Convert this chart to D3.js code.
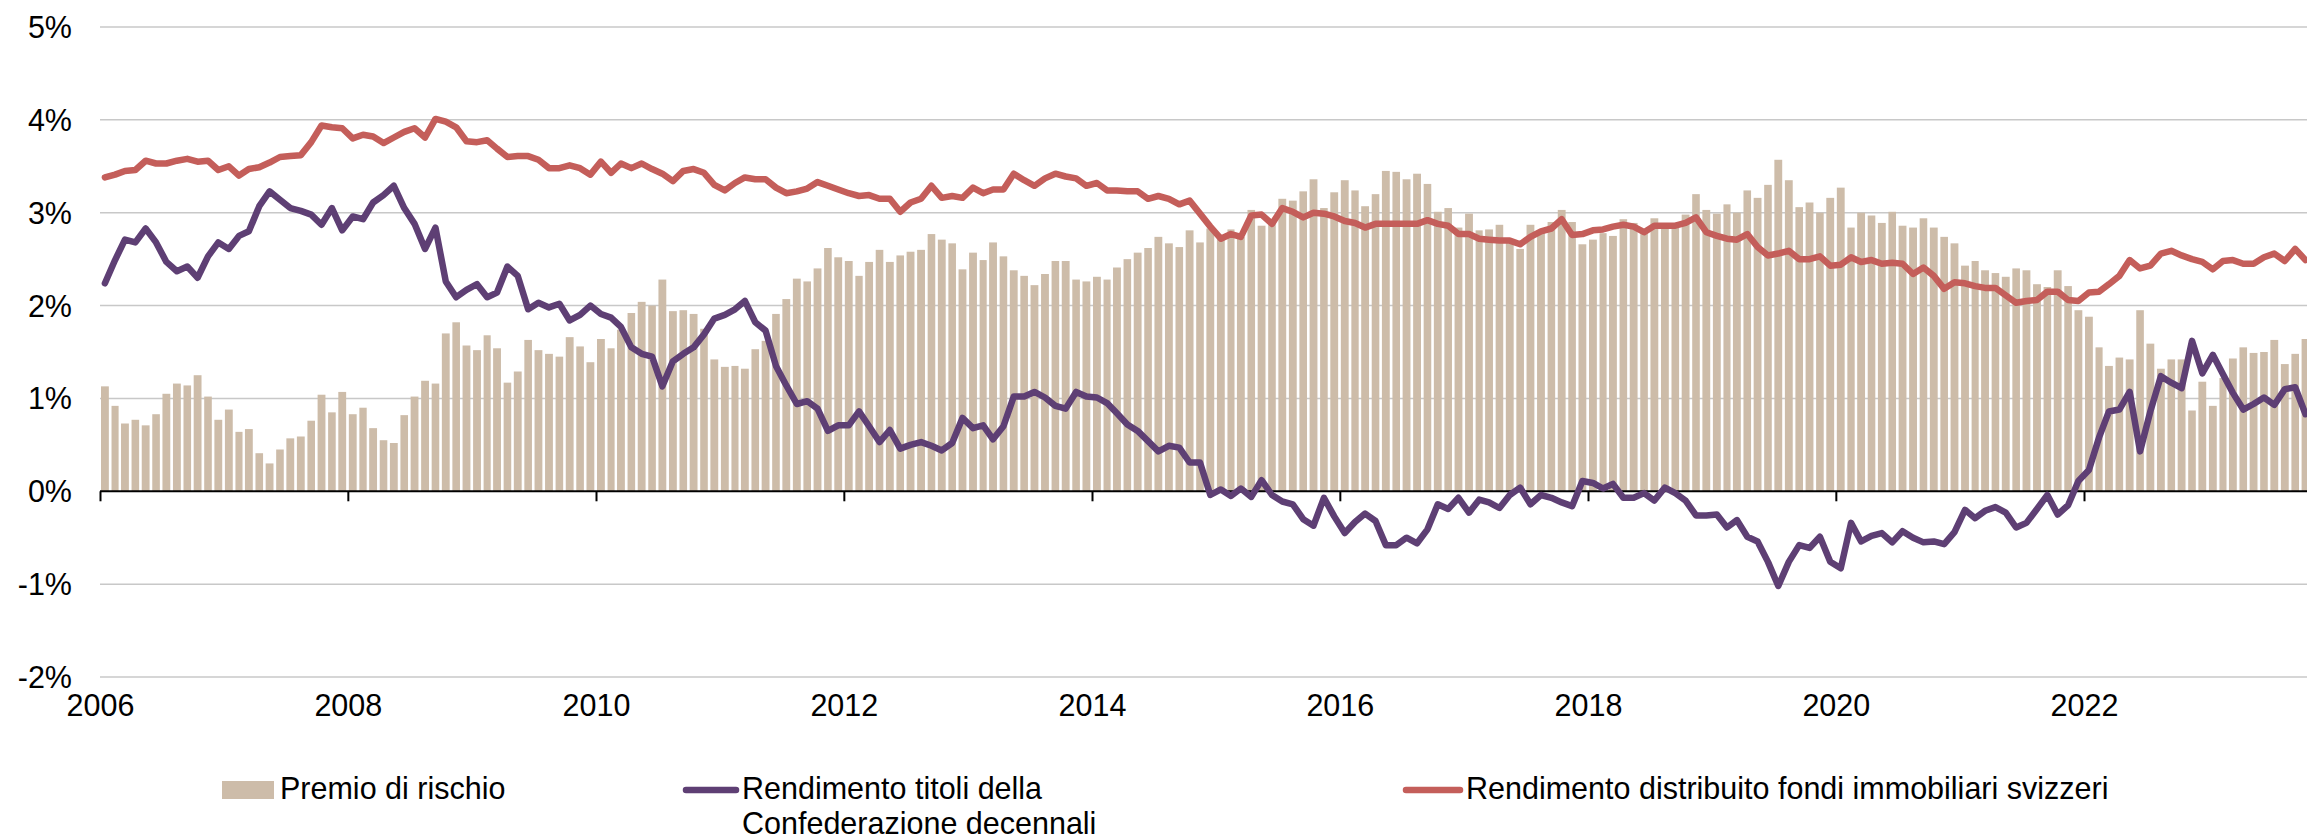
<!DOCTYPE html>
<html>
<head>
<meta charset="utf-8">
<script src="https://cdn.jsdelivr.net/npm/d3@7"></script>
<style>
  html, body { margin: 0; padding: 0; background: #fff; }
  svg { display: block; }
  text { font-family: "Liberation Sans", Arial, "Open Sans", sans-serif; fill: #000; }
</style>
</head>
<body>
<svg id="chart" width="2307" height="840"></svg>
<script>
// ---------------- DATA ----------------
const startMonth = "2006-01";
const yTickValues = [-2, -1, 0, 1, 2, 3, 4, 5];
const xTickYears = [2006, 2008, 2010, 2012, 2014, 2016, 2018, 2020, 2022];

const legendLabels = ["Premio di rischio", ["Rendimento titoli della", "Confederazione decennali"], "Rendimento distribuito fondi immobiliari svizzeri"];

// Premio di rischio (bars), monthly from Jan 2006
const premio = [
  1.13, 0.92, 0.73, 0.77, 0.71, 0.83, 1.05, 1.16, 1.14, 1.25, 1.02, 0.77,
  0.88, 0.64, 0.67, 0.41, 0.30, 0.45, 0.57, 0.59, 0.76, 1.04, 0.85, 1.07,
  0.83, 0.90, 0.68, 0.55, 0.52, 0.82, 1.02, 1.19, 1.16, 1.70, 1.82, 1.57,
  1.52, 1.68, 1.54, 1.17, 1.29, 1.63, 1.52, 1.48, 1.45, 1.66, 1.56, 1.39,
  1.64, 1.54, 1.74, 1.92, 2.04, 2.00, 2.28, 1.94, 1.95, 1.91, 1.75, 1.42,
  1.34, 1.35, 1.32, 1.53, 1.62, 1.91, 2.07, 2.29, 2.26, 2.40, 2.62, 2.52,
  2.48, 2.32, 2.47, 2.60, 2.47, 2.54, 2.58, 2.60, 2.77, 2.71, 2.67, 2.39,
  2.57, 2.49, 2.68, 2.53, 2.38, 2.32, 2.22, 2.34, 2.48, 2.48, 2.28, 2.26,
  2.31, 2.28, 2.41, 2.50, 2.57, 2.62, 2.74, 2.67, 2.63, 2.81, 2.68, 2.83,
  2.75, 2.82, 2.74, 3.03, 2.86, 2.92, 3.15, 3.13, 3.23, 3.36, 3.05, 3.22,
  3.35, 3.24, 3.07, 3.20, 3.45, 3.44, 3.36, 3.42, 3.31, 3.01, 3.05, 2.84,
  2.99, 2.81, 2.82, 2.87, 2.70, 2.61, 2.87, 2.79, 2.90, 3.03, 2.90, 2.66,
  2.71, 2.78, 2.75, 2.93, 2.89, 2.81, 2.94, 2.83, 2.88, 2.98, 3.20, 3.03,
  2.99, 3.09, 3.00, 3.24, 3.16, 3.30, 3.57, 3.35, 3.06, 3.11, 3.00, 3.16,
  3.27, 2.84, 3.00, 2.97, 2.89, 3.01, 2.86, 2.84, 2.94, 2.84, 2.74, 2.67,
  2.43, 2.48, 2.38, 2.35, 2.31, 2.40, 2.38, 2.23, 2.20, 2.38, 2.21, 1.95,
  1.88, 1.55, 1.35, 1.44, 1.42, 1.95, 1.59, 1.32, 1.42, 1.42, 0.87, 1.18,
  0.92, 1.22, 1.43, 1.55, 1.49, 1.50, 1.63, 1.37, 1.48, 1.64
];

// Rendimento titoli della Confederazione decennali (purple line)
const confederazione = [
  2.24, 2.49, 2.71, 2.68, 2.83, 2.68, 2.47, 2.37, 2.42, 2.30, 2.53, 2.68,
  2.61, 2.75, 2.80, 3.07, 3.23, 3.14, 3.05, 3.02, 2.98, 2.87, 3.05, 2.81,
  2.96, 2.93, 3.11, 3.19, 3.29, 3.05, 2.88, 2.61, 2.84, 2.26, 2.09, 2.17,
  2.23, 2.09, 2.14, 2.42, 2.32, 1.96, 2.03, 1.98, 2.02, 1.84, 1.90, 2.00,
  1.91, 1.87, 1.77, 1.55, 1.48, 1.45, 1.13, 1.40, 1.48, 1.55, 1.69, 1.86,
  1.90, 1.96, 2.05, 1.82, 1.73, 1.35, 1.14, 0.94, 0.97, 0.89, 0.65, 0.71,
  0.71, 0.86, 0.70, 0.53, 0.66, 0.46, 0.50, 0.53, 0.49, 0.44, 0.52, 0.79,
  0.68, 0.71, 0.56, 0.70, 1.02, 1.02, 1.07, 1.01, 0.92, 0.89, 1.07, 1.02,
  1.01, 0.95, 0.84, 0.72, 0.65, 0.54, 0.43, 0.49, 0.47, 0.31, 0.31, -0.04,
  0.02, -0.05, 0.03, -0.06, 0.12, -0.04, -0.11, -0.14, -0.30, -0.37, -0.07, -0.27,
  -0.45, -0.33, -0.24, -0.32, -0.58, -0.58, -0.50, -0.56, -0.41, -0.14, -0.19, -0.07,
  -0.23, -0.09, -0.12, -0.18, -0.04, 0.04, -0.14, -0.04, -0.07, -0.12, -0.16, 0.11,
  0.09, 0.03, 0.08, -0.07, -0.07, -0.02, -0.10, 0.04, -0.02, -0.10, -0.26, -0.26,
  -0.25, -0.39, -0.31, -0.49, -0.54, -0.76, -1.02, -0.76, -0.58, -0.61, -0.49, -0.76,
  -0.83, -0.34, -0.54, -0.48, -0.45, -0.55, -0.43, -0.50, -0.55, -0.54, -0.57, -0.44,
  -0.20, -0.29, -0.21, -0.17, -0.23, -0.39, -0.34, -0.19, -0.04, -0.25, -0.15, 0.11,
  0.23, 0.58, 0.86, 0.88, 1.07, 0.43, 0.86, 1.24, 1.17, 1.11, 1.62, 1.27,
  1.47, 1.26, 1.06, 0.88, 0.94, 1.01, 0.93, 1.10, 1.12, 0.83
];

// Rendimento distribuito fondi immobiliari svizzeri (red line)
const fondiImmobiliari = [
  3.38, 3.41, 3.45, 3.46, 3.56, 3.53, 3.53, 3.56, 3.58, 3.55, 3.56, 3.46,
  3.50, 3.40, 3.47, 3.49, 3.54, 3.60, 3.61, 3.62, 3.76, 3.94, 3.92, 3.91,
  3.80, 3.84, 3.82, 3.75, 3.81, 3.87, 3.91, 3.81, 4.01, 3.98, 3.92, 3.77,
  3.76, 3.78, 3.69, 3.60, 3.61, 3.61, 3.57, 3.48, 3.48, 3.51, 3.48, 3.41,
  3.55, 3.43, 3.53, 3.48, 3.53, 3.47, 3.42, 3.34, 3.45, 3.47, 3.43, 3.30,
  3.24, 3.32, 3.38, 3.36, 3.36, 3.27, 3.21, 3.23, 3.26, 3.33, 3.29, 3.25,
  3.21, 3.18, 3.19, 3.15, 3.15, 3.01, 3.11, 3.15, 3.29, 3.16, 3.18, 3.16,
  3.27, 3.21, 3.25, 3.25, 3.42, 3.35, 3.29, 3.37, 3.42, 3.39, 3.37, 3.29,
  3.32, 3.24, 3.24, 3.23, 3.23, 3.15, 3.18, 3.15, 3.09, 3.13, 2.99, 2.85,
  2.72, 2.77, 2.74, 2.97, 2.98, 2.88, 3.05, 3.01, 2.95, 3.00, 2.99, 2.96,
  2.91, 2.89, 2.84, 2.88, 2.88, 2.88, 2.88, 2.88, 2.92, 2.88, 2.86, 2.77,
  2.77, 2.72, 2.71, 2.70, 2.70, 2.66, 2.74, 2.80, 2.83, 2.93, 2.76, 2.77,
  2.81, 2.82, 2.85, 2.87, 2.85, 2.79, 2.86, 2.86, 2.86, 2.89, 2.95, 2.79,
  2.75, 2.72, 2.71, 2.77, 2.63, 2.54, 2.56, 2.59, 2.50, 2.50, 2.53, 2.43,
  2.44, 2.52, 2.47, 2.49, 2.45, 2.46, 2.45, 2.34, 2.41, 2.32, 2.18, 2.25,
  2.24, 2.21, 2.19, 2.19, 2.11, 2.03, 2.05, 2.06, 2.15, 2.15, 2.06, 2.05,
  2.14, 2.15, 2.23, 2.32, 2.49, 2.40, 2.43, 2.56, 2.59, 2.54, 2.50, 2.47,
  2.39, 2.48, 2.49, 2.45, 2.45, 2.52, 2.56, 2.48, 2.61, 2.49
];

// ---------------- CHART ----------------
const W = 2307, H = 840;
const colors = { bar: "#cdbca9", purple: "#5e3f74", red: "#c45e5a", grid: "#c8c8c8" };
const FS = 30.5;

const parseMonth = d3.timeParse("%Y-%m");
const start = parseMonth(startMonth);
const months = d3.range(premio.length).map(i => d3.timeMonth.offset(start, i));

const x = d3.scaleTime()
  .domain([new Date(2006, 0, 1), new Date(2022, 0, 1)])
  .range([100, 2084]);
const y = d3.scaleLinear().domain([-2, 5]).range([677, 27]);

const svg = d3.select("#chart");
svg.append("rect").attr("width", W).attr("height", H).attr("fill", "#fff");

const plotLeft = 100, plotRight = W;

// gridlines
svg.append("g").selectAll("line")
  .data(yTickValues.filter(v => v !== 0))
  .join("line")
  .attr("x1", plotLeft).attr("x2", plotRight)
  .attr("y1", d => y(d)).attr("y2", d => y(d))
  .attr("stroke", colors.grid).attr("stroke-width", 1.5);

// y labels
svg.append("g").selectAll("text")
  .data(yTickValues)
  .join("text")
  .attr("x", 72).attr("y", d => y(d) + 11)
  .attr("text-anchor", "end")
  .attr("font-size", FS)
  .text(d => d + "%");

// bars
const bw = m => (x(d3.timeMonth.offset(m, 1)) - x(m));
svg.append("g").selectAll("rect")
  .data(premio.map((v, i) => ({ v, m: months[i] })))
  .join("rect")
  .attr("x", d => x(d.m) + 1)
  .attr("width", d => bw(d.m) * 0.745)
  .attr("y", d => Math.min(y(d.v), y(0)))
  .attr("height", d => Math.abs(y(0) - y(d.v)))
  .attr("fill", colors.bar);

// x axis
const xAxis = d3.axisBottom(x)
  .tickValues(xTickYears.map(yr => new Date(yr, 0, 1)))
  .tickFormat(d3.timeFormat("%Y"))
  .tickSize(10)
  .tickSizeOuter(0);
const gx = svg.append("g").attr("transform", `translate(0,${y(0)})`).call(xAxis);
gx.select(".domain").remove();
gx.selectAll(".tick line").attr("stroke", "#000").attr("stroke-width", 2);
gx.selectAll(".tick text")
  .attr("font-size", FS)
  .attr("font-family", '"Liberation Sans", Arial, sans-serif')
  .attr("fill", "#000")
  .attr("dy", null)
  .attr("y", 716 - y(0));
svg.append("line")
  .attr("x1", plotLeft).attr("x2", plotRight)
  .attr("y1", y(0)).attr("y2", y(0))
  .attr("stroke", "#000").attr("stroke-width", 2);

// lines
const cx = m => x(m) + 1 + bw(m) * 0.745 / 2;
const line = d3.line().x((d, i) => cx(months[i])).y(d => y(d));
svg.append("path").datum(fondiImmobiliari)
  .attr("d", line).attr("fill", "none")
  .attr("stroke", colors.red).attr("stroke-width", 6.5)
  .attr("stroke-linejoin", "round").attr("stroke-linecap", "round");
svg.append("path").datum(confederazione)
  .attr("d", line).attr("fill", "none")
  .attr("stroke", colors.purple).attr("stroke-width", 6.5)
  .attr("stroke-linejoin", "round").attr("stroke-linecap", "round");

// legend
const lg = svg.append("g");
lg.append("rect").attr("x", 222).attr("y", 781).attr("width", 52).attr("height", 18).attr("fill", colors.bar);
lg.append("text").attr("x", 280).attr("y", 799).attr("font-size", FS).text(legendLabels[0]);

lg.append("line").attr("x1", 686).attr("x2", 736).attr("y1", 790).attr("y2", 790)
  .attr("stroke", colors.purple).attr("stroke-width", 6.5).attr("stroke-linecap", "round");
const t2 = lg.append("text").attr("x", 742).attr("y", 799).attr("font-size", FS);
t2.append("tspan").attr("x", 742).attr("dy", 0).text(legendLabels[1][0]);
t2.append("tspan").attr("x", 742).attr("dy", 35).text(legendLabels[1][1]);

lg.append("line").attr("x1", 1406).attr("x2", 1460).attr("y1", 790).attr("y2", 790)
  .attr("stroke", colors.red).attr("stroke-width", 6.5).attr("stroke-linecap", "round");
lg.append("text").attr("x", 1466).attr("y", 799).attr("font-size", FS).text(legendLabels[2]);
</script>
</body>
</html>
